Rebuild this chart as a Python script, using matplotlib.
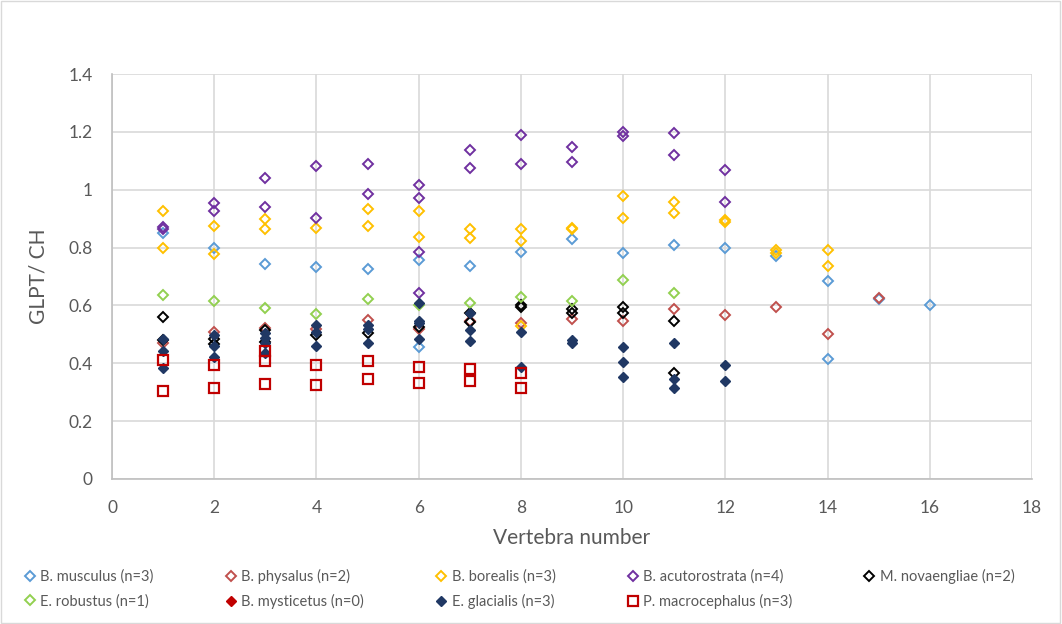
import matplotlib
matplotlib.use("Agg")
import matplotlib.pyplot as plt
from matplotlib.patches import Rectangle

plt.rcParams['font.family'] = ['Lato', 'DejaVu Sans']

# data (vertebra number, GLPT/CH)
musculus_x = [1, 2, 3, 4, 5, 6, 6, 7, 8, 9, 10, 11, 12, 13, 14, 14, 15, 16]
musculus_y = [0.849, 0.800, 0.743, 0.732, 0.725, 0.757, 0.456, 0.736, 0.784, 0.828,
              0.780, 0.808, 0.797, 0.771, 0.684, 0.416, 0.623, 0.601]

physalus_x = [1, 2, 3, 4, 5, 6, 7, 8, 9, 10, 11, 12, 13, 14, 15]
physalus_y = [0.469, 0.508, 0.522, 0.518, 0.548, 0.520, 0.545, 0.538, 0.552, 0.545,
              0.588, 0.568, 0.593, 0.500, 0.625]

borealis_x = [1, 1, 2, 2, 3, 3, 4, 5, 5, 6, 6, 7, 7, 8, 8, 8, 9, 9, 10, 10, 11, 11,
              12, 12, 13, 13, 14, 14]
borealis_y = [0.928, 0.800, 0.875, 0.778, 0.898, 0.863, 0.869, 0.932, 0.876, 0.927,
              0.838, 0.863, 0.834, 0.863, 0.823, 0.529, 0.868, 0.864, 0.978, 0.901,
              0.959, 0.918, 0.895, 0.888, 0.790, 0.782, 0.792, 0.736]

acuto_x = [1, 1, 2, 2, 3, 3, 4, 4, 5, 5, 6, 6, 6, 6, 7, 7, 8, 8, 9, 9, 10, 10, 11, 11, 12, 12]
acuto_y = [0.870, 0.865, 0.953, 0.928, 1.039, 0.939, 1.082, 0.903, 1.088, 0.985,
           1.016, 0.972, 0.786, 0.644, 1.137, 1.074, 1.189, 1.088, 1.149, 1.097,
           1.200, 1.186, 1.197, 1.120, 1.067, 0.956]

novae_x = [1, 1, 2, 2, 3, 3, 4, 5, 6, 7, 7, 8, 8, 9, 9, 10, 10, 11, 11]
novae_y = [0.561, 0.480, 0.483, 0.465, 0.515, 0.475, 0.498, 0.504, 0.527, 0.575,
           0.544, 0.601, 0.594, 0.586, 0.575, 0.596, 0.573, 0.547, 0.365]

robustus_x = [1, 2, 3, 4, 5, 6, 7, 8, 9, 10, 11]
robustus_y = [0.636, 0.615, 0.590, 0.569, 0.622, 0.603, 0.607, 0.630, 0.616, 0.688, 0.644]

mysticetus_x = []
mysticetus_y = []

glacialis_x = [1, 1, 1, 2, 2, 2, 3, 3, 3, 3, 4, 4, 4, 5, 5, 5, 6, 6, 6, 6, 7, 7, 7,
               8, 8, 9, 9, 10, 10, 10, 11, 11, 11, 12, 12]
glacialis_y = [0.483, 0.444, 0.383, 0.498, 0.460, 0.423, 0.504, 0.486, 0.469, 0.437,
               0.532, 0.509, 0.461, 0.532, 0.520, 0.469, 0.609, 0.547, 0.540, 0.484,
               0.573, 0.515, 0.477, 0.509, 0.388, 0.480, 0.469, 0.457, 0.406, 0.354,
               0.471, 0.345, 0.314, 0.394, 0.340]

macro_x = [1, 1, 2, 2, 3, 3, 3, 4, 4, 5, 5, 6, 6, 7, 7, 8, 8]
macro_y = [0.411, 0.304, 0.394, 0.316, 0.444, 0.408, 0.327, 0.394, 0.324, 0.409,
           0.345, 0.388, 0.333, 0.379, 0.339, 0.365, 0.313]

fig = plt.figure(figsize=(10.62, 6.24), dpi=100)
ax = fig.add_axes([0.1055, 0.2324, 0.8663, 0.649])

ms = 4.6
h = {}
h['mus'], = ax.plot(musculus_x, musculus_y, 'D', mfc='none', mec='#5B9BD5', ms=ms, mew=1.4,
                    label='B. musculus (n=3)')
h['phy'], = ax.plot(physalus_x, physalus_y, 'D', mfc='none', mec='#C0504D', ms=ms, mew=1.4,
                    label='B. physalus (n=2)')
h['bor'], = ax.plot(borealis_x, borealis_y, 'D', mfc='none', mec='#FFC000', ms=ms, mew=1.4,
                    label='B. borealis (n=3)')
h['acu'], = ax.plot(acuto_x, acuto_y, 'D', mfc='none', mec='#7030A0', ms=ms, mew=1.4,
                    label='B. acutorostrata (n=4)')
h['nov'], = ax.plot(novae_x, novae_y, 'D', mfc='none', mec='black', ms=ms, mew=1.4,
                    label='M. novaengliae (n=2)')
h['rob'], = ax.plot(robustus_x, robustus_y, 'D', mfc='none', mec='#92D050', ms=ms, mew=1.4,
                    label='E. robustus (n=1)')
h['mys'], = ax.plot(mysticetus_x, mysticetus_y, 'D', mfc='#C00000', mec='#C00000', ms=ms,
                    label='B. mysticetus (n=0)')
h['gla'], = ax.plot(glacialis_x, glacialis_y, 'D', mfc='#203864', mec='#203864', ms=5.6,
                    label='E. glacialis (n=3)')
h['mac'], = ax.plot(macro_x, macro_y, 's', mfc='none', mec='#C00000', ms=7, mew=1.6,
                    label='P. macrocephalus (n=3)')

ax.set_xlim(0, 18)
ax.set_ylim(0, 1.4)
ax.set_xticks(range(0, 19, 2))
ax.set_yticks([0, 0.2, 0.4, 0.6, 0.8, 1.0, 1.2, 1.4])
ax.set_yticklabels(['0', '0.2', '0.4', '0.6', '0.8', '1', '1.2', '1.4'])
ax.grid(True, color='#D9D9D9', lw=1.2)
ax.set_axisbelow(True)
for s in ['top', 'right']:
    ax.spines[s].set_visible(False)
for s in ['left', 'bottom']:
    ax.spines[s].set_color('#BFBFBF')
    ax.spines[s].set_linewidth(1.2)
ax.tick_params(length=0, labelsize=12.5, colors='#595959')
ax.tick_params(axis='x', pad=15)
ax.tick_params(axis='y', pad=14)
ax.set_xlabel('Vertebra number', fontsize=15, color='#595959', labelpad=9)
ax.set_ylabel('GLPT/ CH', fontsize=15, color='#595959', labelpad=14)

order = ['mus', 'rob', 'phy', 'mys', 'bor', 'gla', 'acu', 'mac', 'nov']
leg = fig.legend([h[k] for k in order], [h[k].get_label() for k in order],
                 ncol=5, loc='center left', bbox_to_anchor=(0.012, 0.056),
                 frameon=False, fontsize=10.5, handlelength=0.6, handletextpad=0.4,
                 columnspacing=5.0, labelspacing=0.7, labelcolor='#595959')

fig.patches.append(Rectangle((0.001, 0.001), 0.997, 0.997, transform=fig.transFigure,
                             fill=False, edgecolor='#D9D9D9', lw=1))

fig.savefig('out.png', dpi=100)
